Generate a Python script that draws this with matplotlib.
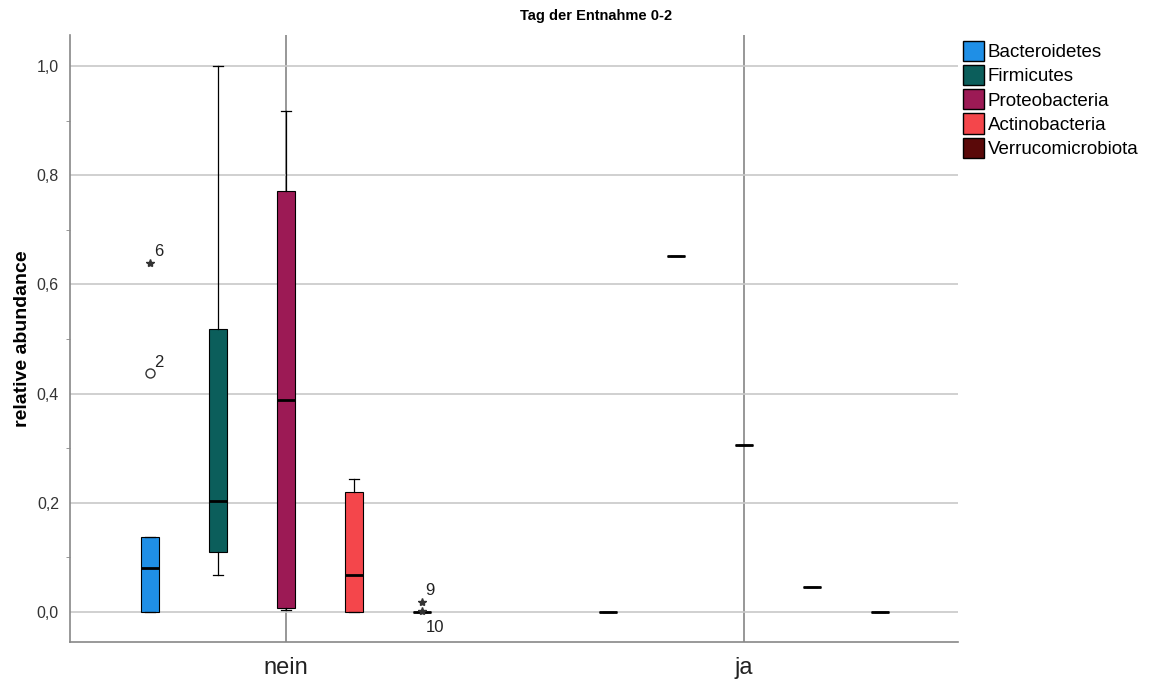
import matplotlib
matplotlib.use("Agg")
import matplotlib.pyplot as plt
from matplotlib.patches import Patch
from matplotlib.ticker import MultipleLocator, FixedLocator, FuncFormatter

plt.rcParams["font.family"] = ["Liberation Sans", "DejaVu Sans"]

# data
groups = ["nein", "ja"]
phyla = ["Bacteroidetes", "Firmicutes", "Proteobacteria", "Actinobacteria", "Verrucomicrobiota"]
colors = ["#1f8fe6", "#0b5e5b", "#9c1a55", "#f4464b", "#5a0909"]

# box stats for "nein"
nein_whislo = [0.0, 0.068, 0.004, 0.0, 0.0]
nein_q1     = [0.0, 0.110, 0.007, 0.0, 0.0]
nein_med    = [0.081, 0.203, 0.388, 0.067, 0.0]
nein_q3     = [0.138, 0.518, 0.771, 0.219, 0.0]
nein_whishi = [0.138, 1.0, 0.917, 0.243, 0.0]

# "ja" only single values
ja_values = [0.0, 0.653, 0.305, 0.045, 0.0]

# outliers: (phylum index, value, marker, label)
out_idx    = [0, 0, 4, 4]
out_vals   = [0.437, 0.640, 0.019, 0.001]
out_marker = ["o", "*", "*", "*"]
out_label  = ["2", "6", "9", "10"]

fig = plt.figure(figsize=(11.52, 6.86), dpi=100)
ax = fig.add_axes([70/1152, 1-642/686, (958-70)/1152, (642-35)/686])

step = 68/458.0
width = 18/458.0
offsets = [(i - 2) * step for i in range(5)]

stats = []
for i in range(5):
    stats.append(dict(whislo=nein_whislo[i], q1=nein_q1[i], med=nein_med[i],
                      q3=nein_q3[i], whishi=nein_whishi[i], fliers=[]))
for i in range(5):
    v = ja_values[i]
    stats.append(dict(whislo=v, q1=v, med=v, q3=v, whishi=v, fliers=[]))

positions = [0 + o for o in offsets] + [1 + o for o in offsets]

# category lines behind everything
for g in range(2):
    ax.axvline(g, color="#7a7a7a", lw=1.1, zorder=1)

bp = ax.bxp(stats, positions=positions, widths=width, patch_artist=True,
            showfliers=False, manage_ticks=False,
            boxprops=dict(edgecolor="black", linewidth=0.8),
            medianprops=dict(color="black", linewidth=2),
            whiskerprops=dict(color="black", linewidth=0.9),
            capprops=dict(color="black", linewidth=0.9), capwidths=width*0.55,
            zorder=3)
for k, box in enumerate(bp["boxes"]):
    box.set_facecolor(colors[k % 5])

for i, v, mk, lab in zip(out_idx, out_vals, out_marker, out_label):
    x = offsets[i]
    if mk == "o":
        ax.plot(x, v, marker="o", mfc="white", mec="#333333", ms=6.5, mew=1, zorder=4)
    else:
        ax.plot(x, v, marker="*", color="#333333", ms=6, zorder=4)
    if lab == "10":
        ax.text(x + 0.008, v - 0.016, lab, fontsize=12, va="top", ha="left", color="#222222")
    else:
        ax.text(x + 0.008, v + 0.006, lab, fontsize=12, va="bottom", ha="left", color="#222222")

ax.set_xlim(-216/458.0, 672/458.0)
ax.set_ylim(-0.055, 1.057)

ax.yaxis.set_major_locator(FixedLocator([0, 0.2, 0.4, 0.6, 0.8, 1.0]))
ax.yaxis.set_minor_locator(MultipleLocator(0.1))
ax.yaxis.set_major_formatter(FuncFormatter(lambda v, p: ("%.1f" % v).replace(".", ",")))
ax.grid(axis="y", which="major", color="#c8c8c8", lw=1.2, zorder=0)
ax.tick_params(axis="y", which="major", length=0, labelsize=11.5, pad=8, labelcolor="#333333")
ax.tick_params(axis="y", which="minor", length=3, color="#888888")

ax.set_xticks([0, 1])
ax.set_xticklabels(groups, fontsize=17, color="#222222")
ax.tick_params(axis="x", length=0, pad=11)

for s in ["top", "right"]:
    ax.spines[s].set_visible(False)
for s in ["left", "bottom"]:
    ax.spines[s].set_color("#888888")
    ax.spines[s].set_linewidth(1.2)

ax.set_ylabel("relative abundance", fontsize=14, fontweight="bold", labelpad=4)
fig.text(596/1152, 1-16/686, "Tag der Entnahme 0-2", fontsize=10.5, fontweight="bold",
         ha="center", va="center")

handles = [Patch(facecolor=c, edgecolor="black", label=p) for p, c in zip(phyla, colors)]
fig.legend(handles=handles, loc="upper left", bbox_to_anchor=(955/1152, 1-33/686),
           frameon=False, fontsize=13.5, handlelength=1.15, handleheight=1.3,
           handletextpad=0.2, labelspacing=0.2, borderaxespad=0)

fig.savefig("out.png", dpi=100)
